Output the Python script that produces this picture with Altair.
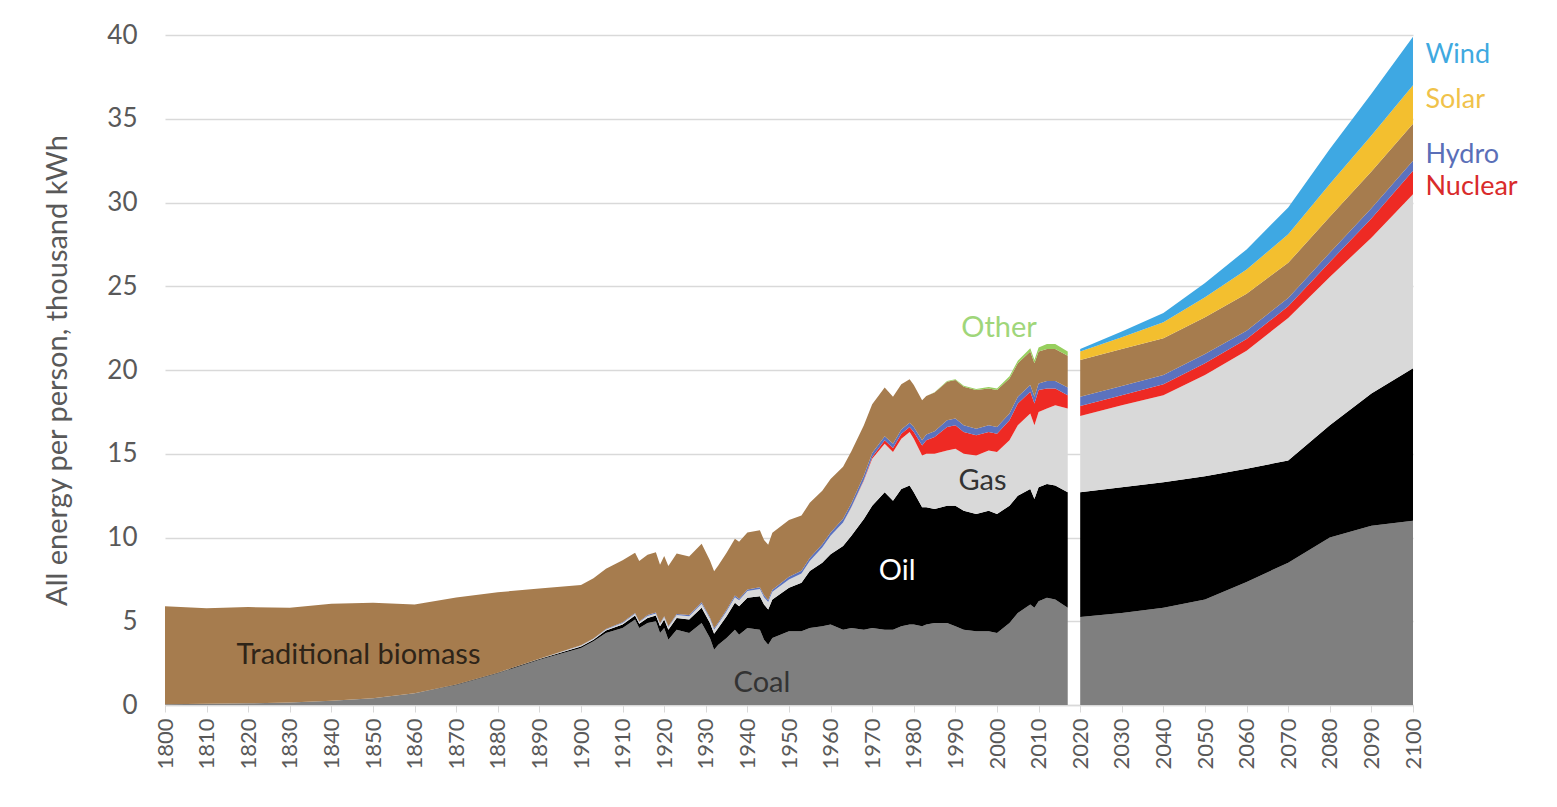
import altair as alt
import pandas as pd

# ---------------- data ----------------
hist_years = [1800, 1810, 1820, 1830, 1840, 1850, 1860, 1870, 1880, 1890,
              1900, 1903, 1906, 1910, 1913, 1914, 1916, 1918, 1919, 1920,
              1921, 1923, 1926, 1929, 1931, 1932, 1933, 1935, 1937, 1938,
              1940, 1943, 1944, 1945, 1946, 1950, 1953, 1955, 1958, 1960,
              1963, 1965, 1968, 1970, 1973, 1975, 1977, 1979, 1980, 1982,
              1983, 1985, 1988, 1990, 1992, 1995, 1998, 2000, 2003, 2005,
              2008, 2009, 2010, 2012, 2014, 2017]

hist_coal = [0.05, 0.07, 0.1, 0.15, 0.25, 0.4, 0.7, 1.2, 1.9, 2.7,
             3.4, 3.8, 4.3, 4.6, 5.1, 4.6, 4.9, 5.0, 4.3, 4.6,
             3.9, 4.5, 4.3, 4.9, 4.0, 3.3, 3.6, 4.0, 4.5, 4.2,
             4.6, 4.5, 3.9, 3.6, 4.0, 4.4, 4.4, 4.6, 4.7, 4.8,
             4.5, 4.6, 4.5, 4.6, 4.5, 4.5, 4.7, 4.8, 4.8, 4.7,
             4.8, 4.9, 4.9, 4.7, 4.5, 4.4, 4.4, 4.3, 4.9, 5.5,
             6.0, 5.8, 6.2, 6.4, 6.3, 5.8]

hist_oil = [0, 0, 0, 0, 0, 0, 0, 0.02, 0.03, 0.05,
            0.1, 0.1, 0.15, 0.2, 0.25, 0.25, 0.3, 0.35, 0.4, 0.5,
            0.6, 0.7, 0.8, 0.9, 0.9, 0.95, 1.0, 1.3, 1.6, 1.7,
            1.8, 2.0, 2.1, 2.1, 2.3, 2.6, 2.9, 3.4, 3.8, 4.2,
            5.0, 5.5, 6.6, 7.3, 8.2, 7.7, 8.2, 8.3, 7.9, 7.1,
            7.0, 6.8, 7.0, 7.2, 7.1, 7.0, 7.2, 7.1, 7.0, 7.0,
            6.9, 6.5, 6.8, 6.8, 6.8, 6.9]

hist_gas = [0, 0, 0, 0, 0, 0, 0, 0, 0, 0.01,
            0.05, 0.05, 0.06, 0.1, 0.1, 0.1, 0.12, 0.12, 0.13, 0.15,
            0.15, 0.18, 0.2, 0.25, 0.25, 0.25, 0.25, 0.3, 0.33, 0.35,
            0.4, 0.42, 0.44, 0.45, 0.46, 0.5, 0.55, 0.6, 0.9, 1.1,
            1.4, 1.7, 2.3, 2.8, 2.9, 2.9, 3.0, 3.2, 3.2, 3.1,
            3.2, 3.3, 3.3, 3.4, 3.4, 3.5, 3.6, 3.7, 3.9, 4.2,
            4.5, 4.4, 4.5, 4.5, 4.8, 5.0]

hist_nuclear = [0] * 41 + [0.02, 0.05, 0.1, 0.2, 0.25, 0.3, 0.3, 0.4, 0.6,
                           0.8, 1.0, 1.4, 1.4, 1.3, 1.2, 1.1, 1.1, 1.2, 1.3,
                           1.3, 1.3, 1.3, 1.2, 1.0, 0.8]

hist_hydro = [0, 0, 0, 0, 0, 0, 0, 0, 0, 0,
              0.02, 0.02, 0.03, 0.04, 0.04, 0.04, 0.05, 0.05, 0.05, 0.05,
              0.05, 0.06, 0.07, 0.08, 0.08, 0.08, 0.08, 0.09, 0.1, 0.1,
              0.1, 0.11, 0.11, 0.12, 0.12, 0.15, 0.16, 0.17, 0.19, 0.2,
              0.22, 0.23, 0.25, 0.25, 0.25, 0.25, 0.25, 0.25, 0.3, 0.3,
              0.35, 0.35, 0.4, 0.4, 0.4, 0.4, 0.4, 0.4, 0.4, 0.4,
              0.4, 0.4, 0.4, 0.45, 0.45, 0.45]

hist_biomass = [5.85, 5.7, 5.75, 5.65, 5.8, 5.7, 5.3, 5.2, 4.8, 4.2,
                3.6, 3.6, 3.6, 3.7, 3.6, 3.6, 3.6, 3.6, 3.5, 3.6,
                3.6, 3.6, 3.5, 3.5, 3.4, 3.4, 3.4, 3.4, 3.4, 3.4,
                3.4, 3.4, 3.3, 3.3, 3.4, 3.4, 3.3, 3.3, 3.2, 3.2,
                3.1, 3.1, 3.0, 2.9, 2.9, 2.8, 2.7, 2.6, 2.5, 2.4,
                2.3, 2.3, 2.3, 2.3, 2.3, 2.3, 2.2, 2.2, 2.1, 2.0,
                2.0, 2.0, 1.9, 1.9, 1.9, 1.9]

hist_other = [0] * 51 + [0.02, 0.04, 0.05, 0.06, 0.07, 0.08, 0.1, 0.12, 0.15,
                         0.2, 0.2, 0.25, 0.3, 0.3, 0.25]

proj_years = [2020, 2030, 2040, 2050, 2060, 2070, 2080, 2090, 2100]
proj_coal = [5.25, 5.5, 5.8, 6.3, 7.35, 8.5, 10.0, 10.7, 11.0]
proj_oil = [7.45, 7.5, 7.5, 7.35, 6.75, 6.1, 6.7, 7.9, 9.1]
proj_gas = [4.55, 4.9, 5.2, 6.05, 7.05, 8.5, 8.85, 9.3, 10.4]
proj_nuclear = [0.6, 0.6, 0.65, 0.7, 0.7, 0.7, 0.9, 1.15, 1.4]
proj_hydro = [0.55, 0.55, 0.55, 0.55, 0.5, 0.5, 0.55, 0.6, 0.6]
proj_biomass = [2.2, 2.2, 2.2, 2.2, 2.2, 2.1, 2.15, 2.2, 2.2]
proj_solar = [0.5, 0.7, 0.95, 1.2, 1.45, 1.7, 1.95, 2.15, 2.3]
proj_wind = [0.15, 0.35, 0.55, 0.85, 1.2, 1.6, 2.1, 2.5, 2.9]

series_names = ["Coal", "Oil", "Gas", "Nuclear", "Hydro", "Traditional biomass",
                "Other", "Solar", "Wind"]
series_colors = ["#7f7f7f", "#000000", "#d9d9d9", "#ee2a24", "#5b72be", "#a67c4e",
                 "#97cf5e", "#f3bf2f", "#3ea8e3"]

x_ticks = list(range(1800, 2101, 10))
y_ticks = list(range(0, 41, 5))

label_text = ["Traditional biomass", "Coal", "Oil", "Gas", "Other"]
label_x = [1846.5, 1943.5, 1976.0, 1996.5, 2000.5]
label_y = [3.0, 1.3, 8.0, 13.4, 22.5]
label_color = ["#2e2418", "#333333", "#ffffff", "#333333", "#9fd67a"]

side_text = ["Wind", "Solar", "Hydro", "Nuclear"]
side_x = [2103.0, 2103.0, 2103.0, 2103.0]
side_y = [38.8, 36.1, 32.85, 30.95]
side_color = ["#3fa9e0", "#f0c24a", "#5a6fb8", "#d92b2b"]

# ---------------- tables ----------------
rows = []
hist = {"Coal": hist_coal, "Oil": hist_oil, "Gas": hist_gas, "Nuclear": hist_nuclear,
        "Hydro": hist_hydro, "Traditional biomass": hist_biomass, "Other": hist_other}
proj = {"Coal": proj_coal, "Oil": proj_oil, "Gas": proj_gas, "Nuclear": proj_nuclear,
        "Hydro": proj_hydro, "Traditional biomass": proj_biomass, "Solar": proj_solar,
        "Wind": proj_wind}
for name, vals in hist.items():
    assert len(vals) == len(hist_years), name
    for yr, v in zip(hist_years, vals):
        rows.append({"year": yr, "value": v, "source": name,
                     "ord": series_names.index(name), "period": "hist"})
for name, vals in proj.items():
    assert len(vals) == len(proj_years), name
    for yr, v in zip(proj_years, vals):
        rows.append({"year": yr, "value": v, "source": name,
                     "ord": series_names.index(name), "period": "proj"})
df = pd.DataFrame(rows)

labels_df = pd.DataFrame({"x": label_x, "y": label_y, "text": label_text, "color": label_color})
side_df = pd.DataFrame({"x": side_x, "y": side_y, "text": side_text, "color": side_color})

FONT = "Lato"

x_enc = alt.X("year:Q",
              scale=alt.Scale(domain=[1800, 2100], nice=False, zero=False),
              axis=alt.Axis(values=x_ticks, format="d", labelAngle=270, title=None,
                            grid=False, ticks=True, tickSize=7, tickColor="#d9d9d9",
                            domain=True, domainColor="#d9d9d9", domainWidth=1.5,
                            labelFont=FONT, labelFontSize=22, labelColor="#595959",
                            labelPadding=6, labelOverlap=False))
y_enc = alt.Y("value:Q", stack="zero",
              scale=alt.Scale(domain=[0, 40], nice=False),
              axis=alt.Axis(values=y_ticks, title="All energy per person, thousand kWh",
                            grid=True, gridColor="#d9d9d9", gridWidth=1.5,
                            ticks=False, domain=False,
                            labelFont=FONT, labelFontSize=26, labelColor="#595959",
                            labelPadding=28,
                            titleFont=FONT, titleFontSize=29, titleColor="#595959",
                            titleFontWeight="normal", titlePadding=34))

color_enc = alt.Color("source:N", scale=alt.Scale(domain=series_names, range=series_colors),
                      legend=None)
order_enc = alt.Order("ord:Q", sort="ascending")

hist_area = alt.Chart(df).transform_filter(alt.datum.period == "hist").mark_area(
    interpolate="linear", opacity=1).encode(x=x_enc, y=y_enc, color=color_enc, order=order_enc)
proj_area = alt.Chart(df).transform_filter(alt.datum.period == "proj").mark_area(
    interpolate="linear", opacity=1).encode(x=x_enc, y=y_enc, color=color_enc, order=order_enc)

inner_labels = alt.Chart(labels_df).mark_text(
    font=FONT, fontSize=29, align="center", baseline="middle").encode(
    x=alt.X("x:Q"), y=alt.Y("y:Q"), text="text:N",
    color=alt.Color("color:N", scale=None))

side_labels = alt.Chart(side_df).mark_text(
    font=FONT, fontSize=27, align="left", baseline="middle").encode(
    x=alt.X("x:Q"), y=alt.Y("y:Q"), text="text:N",
    color=alt.Color("color:N", scale=None))

chart = alt.layer(hist_area, proj_area, inner_labels, side_labels).resolve_scale(
    color="independent"
).properties(
    width=1248, height=670,
    autosize=alt.AutoSizeParams(type="none"),
    padding={"left": 157, "top": 27, "right": 130, "bottom": 85},
    background="white"
).configure_view(stroke=None)

chart.save("out.html", embed_options={"renderer": "svg", "actions": False})
